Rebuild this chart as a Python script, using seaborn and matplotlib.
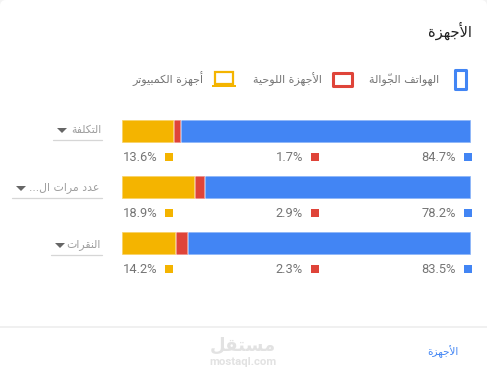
import numpy as np
import pandas as pd
import matplotlib.pyplot as plt
import seaborn as sns
from matplotlib.patches import FancyBboxPatch, Rectangle, Polygon

# --- data ---
METRICS = ["التكلفة", "عدد مرات ال...", "النقرات"]
# printed percentages
DESKTOP = [13.6, 18.9, 14.2]
TABLET = [1.7, 2.9, 2.3]
MOBILE = [84.7, 78.2, 83.5]
# drawn bar lengths (they differ from the printed numbers)
BAR_DESKTOP = [14.8, 20.8, 15.6]
BAR_TABLET = [2.1, 3.1, 3.3]
BAR_MOBILE = [83.1, 76.1, 81.1]
SERIES_NAMES = ["الهواتف الجوّالة", "الأجهزة اللوحية", "أجهزة الكمبيوتر"]
TITLE = "الأجهزة"
FOOTER = "الأجهزة"
WATERMARK = "مستقل"
WATERMARK_SUB = "mostaql.com"

BLUE, RED, YELLOW = "#4285f4", "#df4439", "#f4b400"
GREY = "#757575"

# matplotlib does not shape arabic, so map to presentation forms by hand
# letter: isolated, final, initial, medial
FORMS = {
    "ا": (0xFE8D, 0xFE8E), "أ": (0xFE83, 0xFE84), "ة": (0xFE93, 0xFE94),
    "د": (0xFEA9, 0xFEAA), "ر": (0xFEAD, 0xFEAE), "ز": (0xFEAF, 0xFEB0),
    "و": (0xFEED, 0xFEEE),
    "ب": (0xFE8F, 0xFE90, 0xFE91, 0xFE92), "ت": (0xFE95, 0xFE96, 0xFE97, 0xFE98),
    "ج": (0xFE9D, 0xFE9E, 0xFE9F, 0xFEA0), "ح": (0xFEA1, 0xFEA2, 0xFEA3, 0xFEA4),
    "س": (0xFEB1, 0xFEB2, 0xFEB3, 0xFEB4), "ع": (0xFEC9, 0xFECA, 0xFECB, 0xFECC),
    "ف": (0xFED1, 0xFED2, 0xFED3, 0xFED4), "ق": (0xFED5, 0xFED6, 0xFED7, 0xFED8),
    "ك": (0xFED9, 0xFEDA, 0xFEDB, 0xFEDC), "ل": (0xFEDD, 0xFEDE, 0xFEDF, 0xFEE0),
    "م": (0xFEE1, 0xFEE2, 0xFEE3, 0xFEE4), "ن": (0xFEE5, 0xFEE6, 0xFEE7, 0xFEE8),
    "ه": (0xFEE9, 0xFEEA, 0xFEEB, 0xFEEC), "ي": (0xFEF1, 0xFEF2, 0xFEF3, 0xFEF4),
}
LAM_ALEF = {"ا": (0xFEFB, 0xFEFC), "أ": (0xFEF7, 0xFEF8)}
SHADDA = "\u0651"


def shape(text):
    clusters = []
    prev_joins = False
    letters = list(text)
    i = 0
    while i < len(letters):
        ch = letters[i]
        if ch == SHADDA:
            clusters[-1] += ch
            i += 1
            continue
        if ch not in FORMS:
            clusters.append(ch)
            prev_joins = False
            i += 1
            continue
        if ch == "ل" and i + 1 < len(letters) and letters[i + 1] in LAM_ALEF:
            clusters.append(chr(LAM_ALEF[letters[i + 1]][1 if prev_joins else 0]))
            prev_joins = False
            i += 2
            continue
        nxt = i + 1
        while nxt < len(letters) and letters[nxt] == SHADDA:
            nxt += 1
        forms = FORMS[ch]
        joins_next = len(forms) == 4 and nxt < len(letters) and letters[nxt] in FORMS
        if prev_joins and joins_next:
            g = forms[3]
        elif joins_next:
            g = forms[2]
        elif prev_joins:
            g = forms[1]
        else:
            g = forms[0]
        clusters.append(chr(g))
        prev_joins = joins_next
        i += 1
    return "".join(clusters[::-1])


sns.set_style("white")
plt.rcParams['font.family'] = ['Roboto', 'DejaVu Sans']

fig = plt.figure(figsize=(4.87, 3.75), dpi=100, facecolor="#f3f3f3")

# overlay in pixel coords for the card furniture
bg = fig.add_axes([0, 0, 1, 1], zorder=0)
bg.set_xlim(0, 487)
bg.set_ylim(375, 0)
bg.set_axis_off()
bg.add_patch(FancyBboxPatch((0, 0), 487, 400, boxstyle="round,pad=0,rounding_size=6",
                            fc="white", ec="none"))
bg.plot([0, 487], [327, 327], color="#eeeeee", lw=1.2)

# title and legend
bg.text(472, 31, shape(TITLE), ha="right", va="center", fontsize=10.5, color="#212121",
        family="DejaVu Sans")
bg.add_patch(Rectangle((454.5, 69.5), 11, 19, fc="white", ec=BLUE, lw=2.2, joinstyle="round"))
bg.add_patch(Rectangle((332.5, 72.5), 19, 13, fc="white", ec=RED, lw=2.2, joinstyle="round"))
bg.add_patch(Rectangle((215, 72), 18, 12, fc="white", ec=YELLOW, lw=1.6))
bg.add_patch(Rectangle((212, 85), 24, 2, fc=YELLOW, ec="none"))
for name, right in zip(SERIES_NAMES, [439, 322, 203]):
    bg.text(right, 79, shape(name), ha="right", va="center", fontsize=8, color=GREY,
            family="DejaVu Sans")

# metric dropdowns
label_y = [130, 188, 245]
label_right = [101, 99, 101]
under_y = [140, 198, 255]
under_left = [53, 12, 51]
arrow_x = [62, 21, 60]
for m, ly, lr, uy, ul, ax_ in zip(METRICS, label_y, label_right, under_y, under_left, arrow_x):
    bg.text(lr, ly, shape(m), ha="right", va="center", fontsize=7.8, color="#9e9e9e",
            family="DejaVu Sans")
    bg.plot([ul, 102], [uy, uy], color="#d6d6d6", lw=0.9)
    bg.add_patch(Polygon([(ax_ - 5, ly - 2), (ax_ + 5, ly - 2), (ax_, ly + 3)], fc="#666666", ec="none"))

# stacked bars, longest first so the shorter ones sit on top
ax = fig.add_axes([122 / 487, 1 - 271.5 / 375, 349 / 487, 168 / 375], zorder=1)
df = pd.DataFrame({"metric": METRICS, "desktop": BAR_DESKTOP, "tablet": BAR_TABLET, "mobile": BAR_MOBILE})
totals = [df[["desktop", "tablet", "mobile"]].sum(axis=1),
          df[["desktop", "tablet"]].sum(axis=1),
          df["desktop"]]
for vals, c in zip(totals, [BLUE, RED, YELLOW]):
    sns.barplot(x=vals.values, y=np.arange(3).astype(str), color=c, orient="h", width=23 / 56,
                saturation=1, edgecolor=(1, 1, 1, 0.55), linewidth=1.1, ax=ax)
ax.set_xlim(0, 100)
ax.set_axis_off()
ax.patch.set_alpha(0)

# percentage labels with their little squares
pct_y = [157.5, 213.5, 269.5]
for vals, c, sq_left in zip([DESKTOP, TABLET, MOBILE], [YELLOW, RED, BLUE], [165, 311, 464]):
    for v, y in zip(vals, pct_y):
        bg.add_patch(Rectangle((sq_left, y - 4.5), 8, 8, fc=c, ec="none"))
        bg.text(sq_left - 8, y, f"{v}%", ha="right", va="center", fontsize=9.3, color=GREY)

# footer
bg.text(459, 352, shape(FOOTER), ha="right", va="center", fontsize=7.5, color=BLUE,
        family="DejaVu Sans")
bg.text(243, 346, shape(WATERMARK), ha="center", va="center", fontsize=13, color="#e2e2e2",
        fontweight="bold", family="DejaVu Sans")
bg.text(243, 362, WATERMARK_SUB, ha="center", va="center", fontsize=8.2, color="#e2e2e2",
        fontweight="bold")

fig.savefig("out.png", dpi=100, facecolor=fig.get_facecolor())
